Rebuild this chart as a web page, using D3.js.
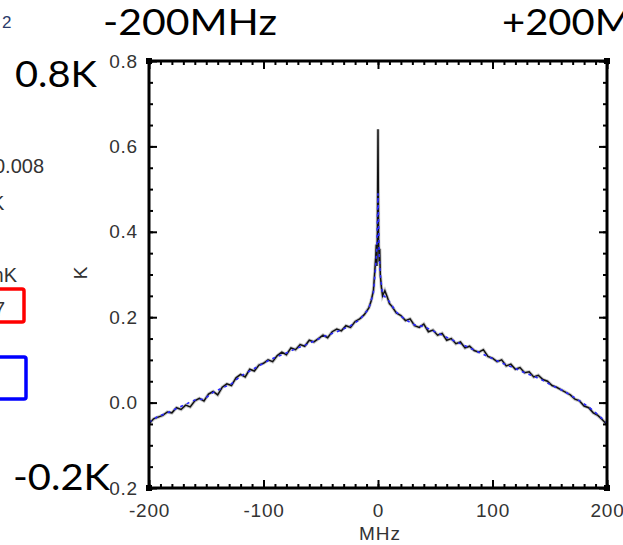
<!DOCTYPE html>
<html>
<head>
<meta charset="utf-8">
<script src="https://cdn.jsdelivr.net/npm/d3@7"></script>
<style>
  body { margin: 0; background: #fff; }
  svg { display: block; }
</style>
</head>
<body>
<div id="chart"></div>
<script>
// spectrum, black trace
var freqBlack = [-200,-196,-192,-188,-184,-180,-176,-172,-168,-164,-160,-156,-152,-148,-144,-140,
  -136,-132,-128,-124,-120,-116,-112,-108,-104,-100,-96,-92,-88,-84,-80,-76,-72,-68,-64,-60,
  -56,-52,-48,-44,-40,-36,-32,-28,-24,-20,-16,-12,-8,-6,-4,-3,-2,-1.5,-1,-0.5,0,0.5,1,1.5,2,3,4,
  6,8,10,12,16,20,24,28,32,36,40,44,48,52,56,60,64,68,72,76,80,84,88,92,96,100,104,108,112,116,
  120,124,128,132,136,140,144,148,152,156,160,164,168,172,176,180,184,188,192,196,200];
var tempBlack = [-0.050,-0.038,-0.034,-0.030,-0.022,-0.024,-0.012,-0.016,-0.006,-0.010,0.004,0.010,
  0.004,0.020,0.026,0.018,0.036,0.044,0.040,0.058,0.066,0.060,0.078,0.074,0.088,0.092,0.100,0.096,
  0.110,0.118,0.112,0.128,0.124,0.136,0.132,0.146,0.142,0.150,0.158,0.152,0.166,0.172,0.168,0.180,
  0.176,0.190,0.196,0.206,0.222,0.238,0.262,0.300,0.340,0.370,0.320,0.400,0.640,0.380,0.330,0.360,
  0.300,0.270,0.250,0.262,0.248,0.232,0.226,0.210,0.204,0.192,0.196,0.180,0.176,0.184,0.166,0.170,
  0.158,0.162,0.146,0.150,0.138,0.142,0.128,0.132,0.122,0.118,0.124,0.108,0.104,0.096,0.100,0.086,
  0.090,0.078,0.082,0.070,0.072,0.060,0.064,0.054,0.050,0.040,0.036,0.030,0.024,0.018,0.008,0.004,
  -0.008,-0.012,-0.024,-0.030,-0.040,-0.052];

// spectrum, blue (dashed) trace
var freqBlue = [-200,-192,-184,-176,-168,-160,-152,-144,-136,-128,-120,-112,-104,-96,-88,-80,-72,
  -64,-56,-48,-40,-32,-24,-16,-8,-4,-2,-1,0,1,2,4,8,16,24,32,40,48,56,64,72,80,88,96,104,112,120,
  128,136,144,152,160,168,176,184,192,200];
var tempBlue = [-0.046,-0.032,-0.024,-0.014,-0.004,0.006,0.008,0.024,0.034,0.044,0.062,0.074,0.086,
  0.098,0.108,0.116,0.126,0.134,0.144,0.154,0.162,0.170,0.180,0.194,0.220,0.258,0.320,0.360,0.490,
  0.350,0.300,0.252,0.244,0.212,0.194,0.182,0.178,0.168,0.158,0.148,0.138,0.128,0.118,0.108,0.098,
  0.088,0.080,0.070,0.062,0.052,0.040,0.030,0.018,0.004,-0.010,-0.028,-0.048];

var xTicks = [-200, -100, 0, 100, 200];
var xTickLabels = ["-200", "-100", "0", "100", "200"];
var yTicks = [-0.2, 0, 0.2, 0.4, 0.6, 0.8];
var yTickLabels = ["-0.2", "0.0", "0.2", "0.4", "0.6", "0.8"];

var W = 623, H = 545;
var pLeft = 149, pRight = 607, pTop = 61, pBottom = 488;

var svg = d3.select("#chart").append("svg")
  .attr("width", W)
  .attr("height", H);

var x = d3.scaleLinear().domain([-200, 200]).range([pLeft, pRight]);
var y = d3.scaleLinear().domain([-0.2, 0.8]).range([pBottom, pTop]);

svg.append("clipPath").attr("id", "clip")
  .append("rect")
    .attr("x", pLeft).attr("y", pTop)
    .attr("width", pRight - pLeft).attr("height", pBottom - pTop);

var line = d3.line()
  .x(function(d) { return x(d[0]); })
  .y(function(d) { return y(d[1]); });

var black = d3.zip(freqBlack, tempBlack);
var blue = d3.zip(freqBlue, tempBlue);

var plot = svg.append("g").attr("clip-path", "url(#clip)");

// soft halo, the original is a blurry scan
plot.append("path")
  .datum(black)
  .attr("d", line)
  .attr("fill", "none")
  .attr("stroke", "#999")
  .attr("stroke-width", 3.4)
  .attr("opacity", 0.55);

plot.append("path")
  .datum(black)
  .attr("d", line)
  .attr("fill", "none")
  .attr("stroke", "#111")
  .attr("stroke-width", 1.5);

plot.append("path")
  .datum(blue)
  .attr("d", line)
  .attr("fill", "none")
  .attr("stroke", "#2b2bff")
  .attr("stroke-width", 1.6)
  .attr("stroke-dasharray", "3,4");

// axes, ticks pointing inward on all four sides
var minorX = d3.range(-200, 201, 10);
var minorY = d3.range(-0.2, 0.801, 0.05);
var labelFont = "Liberation Sans, Arial, sans-serif";

function styleAxis(g) {
  g.select(".domain").remove();
  g.selectAll("line").attr("stroke", "#000").attr("stroke-width", 2);
}

function styleLabels(g) {
  g.selectAll("text")
    .attr("font-family", labelFont)
    .attr("font-size", 19)
    .attr("letter-spacing", 0.8)
    .attr("fill", "#333");
}

svg.append("g").attr("transform", "translate(0," + pBottom + ")")
  .call(d3.axisBottom(x).tickValues(minorX).tickSize(-4).tickFormat(""))
  .call(styleAxis);
svg.append("g").attr("transform", "translate(0," + pBottom + ")")
  .call(d3.axisBottom(x).tickValues(xTicks).tickSizeInner(-8).tickPadding(16)
    .tickFormat(function(d, i) { return xTickLabels[i]; }))
  .call(styleAxis)
  .call(styleLabels);

svg.append("g").attr("transform", "translate(0," + pTop + ")")
  .call(d3.axisTop(x).tickValues(minorX).tickSize(-4).tickFormat(""))
  .call(styleAxis);
svg.append("g").attr("transform", "translate(0," + pTop + ")")
  .call(d3.axisTop(x).tickValues(xTicks).tickSize(-8).tickFormat(""))
  .call(styleAxis);

svg.append("g").attr("transform", "translate(" + pLeft + ",0)")
  .call(d3.axisLeft(y).tickValues(minorY).tickSize(-4).tickFormat(""))
  .call(styleAxis);
svg.append("g").attr("transform", "translate(" + pLeft + ",0)")
  .call(d3.axisLeft(y).tickValues(yTicks).tickSizeInner(-8).tickPadding(11)
    .tickFormat(function(d, i) { return yTickLabels[i]; }))
  .call(styleAxis)
  .call(styleLabels);

svg.append("g").attr("transform", "translate(" + pRight + ",0)")
  .call(d3.axisRight(y).tickValues(minorY).tickSize(-4).tickFormat(""))
  .call(styleAxis);
svg.append("g").attr("transform", "translate(" + pRight + ",0)")
  .call(d3.axisRight(y).tickValues(yTicks).tickSize(-8).tickFormat(""))
  .call(styleAxis);

// frame
svg.append("rect")
  .attr("x", pLeft).attr("y", pTop)
  .attr("width", pRight - pLeft).attr("height", pBottom - pTop)
  .attr("fill", "none")
  .attr("stroke", "#000")
  .attr("stroke-width", 3);

[[pLeft, pTop], [pRight, pTop], [pLeft, pBottom], [pRight, pBottom]].forEach(function(c) {
  svg.append("rect")
    .attr("x", c[0] - 3).attr("y", c[1] - 3)
    .attr("width", 6).attr("height", 6)
    .attr("fill", "#000");
});

// axis titles
svg.append("text")
  .attr("x", 380)
  .attr("y", 540)
  .attr("text-anchor", "middle")
  .attr("font-family", labelFont)
  .attr("font-size", 19)
  .attr("letter-spacing", 1)
  .attr("fill", "#333")
  .text("MHz");

svg.append("text")
  .attr("transform", "translate(87,273) rotate(-90)")
  .attr("text-anchor", "middle")
  .attr("font-family", labelFont)
  .attr("font-size", 19)
  .attr("fill", "#333")
  .text("K");

// big slide annotations
var bigFont = "Lato, 'Open Sans', sans-serif";

svg.append("text")
  .attr("x", 103).attr("y", 35)
  .attr("font-family", bigFont).attr("font-size", 37)
  .attr("textLength", 174).attr("lengthAdjust", "spacingAndGlyphs")
  .text("-200MHz");

svg.append("text")
  .attr("x", 502).attr("y", 35)
  .attr("font-family", bigFont).attr("font-size", 37)
  .attr("textLength", 178).attr("lengthAdjust", "spacingAndGlyphs")
  .text("+200MHz");

svg.append("text")
  .attr("x", 15).attr("y", 87)
  .attr("font-family", bigFont).attr("font-size", 37)
  .attr("textLength", 82).attr("lengthAdjust", "spacingAndGlyphs")
  .text("0.8K");

svg.append("rect")
  .attr("x", 8).attr("y", 458)
  .attr("width", 102).attr("height", 40)
  .attr("fill", "#fff");
svg.append("text")
  .attr("x", 13).attr("y", 490)
  .attr("font-family", bigFont).attr("font-size", 37)
  .attr("textLength", 97).attr("lengthAdjust", "spacingAndGlyphs")
  .text("-0.2K");

// cut-off content from the neighbouring panel
svg.append("text").attr("x", 2).attr("y", 28)
  .attr("font-family", labelFont).attr("font-size", 17).attr("fill", "#2a3a6a").text("2");
svg.append("text").attr("x", -6).attr("y", 173)
  .attr("font-family", labelFont).attr("font-size", 20).attr("fill", "#333").text("0.008");
svg.append("text").attr("x", -9).attr("y", 210)
  .attr("font-family", labelFont).attr("font-size", 20).attr("fill", "#333").text("K");
svg.append("text").attr("x", -13).attr("y", 282)
  .attr("font-family", labelFont).attr("font-size", 20).attr("fill", "#333").text("mK");
svg.append("text").attr("x", -6).attr("y", 316)
  .attr("font-family", labelFont).attr("font-size", 20).attr("fill", "#333").text("7");

svg.append("rect")
  .attr("x", -20).attr("y", 289)
  .attr("width", 44).attr("height", 33)
  .attr("rx", 2)
  .attr("fill", "none").attr("stroke", "#ff0000").attr("stroke-width", 3.5);

svg.append("rect")
  .attr("x", -20).attr("y", 357)
  .attr("width", 46).attr("height", 42)
  .attr("rx", 2)
  .attr("fill", "none").attr("stroke", "#0000ff").attr("stroke-width", 3.5);
</script>
</body>
</html>
